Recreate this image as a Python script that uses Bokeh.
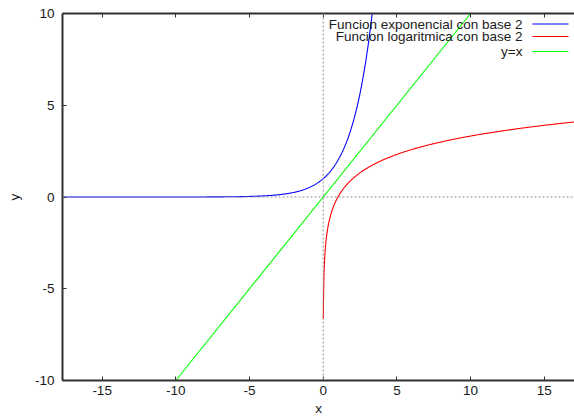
import numpy as np
from bokeh.plotting import figure
from bokeh.models import Range1d, LinearAxis, Span, Label, FixedTicker, CustomJSTickFormatter
from bokeh.embed import file_html
from bokeh.resources import INLINE

# ---- data ----
x_ticks = [-15, -10, -5, 0, 5, 10, 15]
y_ticks = [-10, -5, 0, 5, 10]
x_lo, x_hi = -17.69, 17.05
y_lo, y_hi = -10, 10

series_names = ["Funcion exponencial con base 2", "Funcion logaritmica con base 2", "y=x"]
series_colors = ["#0000ff", "#ff0000", "#00ff00"]

x_exp = np.linspace(-17.69, 3.5, 600)
y_exp = 2.0 ** x_exp
x_log = np.concatenate([np.linspace(0.01, 1.0, 400), np.linspace(1.0, 17.1, 300)])
y_log = np.log2(x_log)
x_id = np.array([-10.0, 10.0])
y_id = x_id.copy()

# ---- figure ----
W, H = 574, 419
ML, MR, MT, MB = 62, 0, 13, 39
FONT = "Liberation Sans"

p = figure(width=W, height=H, output_backend="svg", toolbar_location=None,
           x_range=Range1d(x_lo, x_hi), y_range=Range1d(y_lo, y_hi),
           x_axis_location=None, y_axis_location=None,
           min_border_left=ML, min_border_right=MR, min_border_top=MT, min_border_bottom=MB)
p.outline_line_color = None
p.grid.visible = False
p.background_fill_color = "white"
p.border_fill_color = "white"

def style_axis(ax):
    ax.axis_line_color = "#303030"
    ax.axis_line_width = 2
    ax.major_tick_in = 4
    ax.major_tick_out = 0
    ax.major_tick_line_color = "#303030"
    ax.minor_tick_line_color = None
    ax.major_label_text_font = FONT
    ax.major_label_text_font_size = "13.5px"
    ax.major_label_text_color = "#1a1a1a"
    ax.axis_label_text_font = FONT
    ax.axis_label_text_font_size = "13.5px"
    ax.axis_label_text_font_style = "normal"
    ax.axis_label_text_color = "#1a1a1a"

xb = LinearAxis(ticker=FixedTicker(ticks=x_ticks), axis_label="x")
style_axis(xb)
xb.major_label_overrides = {t: str(t) for t in x_ticks}
xb.major_label_standoff = 5
xb.axis_label_standoff = 3
p.add_layout(xb, "below")

xt = LinearAxis(ticker=FixedTicker(ticks=x_ticks))
style_axis(xt)
xt.formatter = CustomJSTickFormatter(code="return ''")
xt.major_label_standoff = 0
p.add_layout(xt, "above")

yl = LinearAxis(ticker=FixedTicker(ticks=y_ticks), axis_label="y")
style_axis(yl)
yl.major_label_overrides = {t: str(t) for t in y_ticks}
yl.major_label_standoff = 8
yl.axis_label_standoff = 10
p.add_layout(yl, "left")

# zero axes
for dim in ("width", "height"):
    p.add_layout(Span(location=0, dimension=dim, line_color="#909090",
                      line_width=1, line_dash="2 2"))

p.line(x_exp, y_exp, line_color=series_colors[0], line_width=1.1)
p.line(x_log, y_log, line_color=series_colors[1], line_width=1.1)
p.line(x_id, y_id, line_color=series_colors[2], line_width=1.1)

# ---- gnuplot-style legend (text right-aligned, sample on the right) ----
frame_w = W - ML - MR
frame_h = H - MT - MB
def sx2d(sx):
    return x_lo + (sx - ML) / frame_w * (x_hi - x_lo)
def sy2d(sy):
    return y_hi - (sy - MT) / frame_h * (y_hi - y_lo)

legend_rows_sy = [23.5, 36.0, 51.0]
text_right_sx = 522
sample_sx = (532, 568)
for name, col, sy in zip(series_names, series_colors, legend_rows_sy):
    p.add_layout(Label(x=sx2d(text_right_sx), y=sy2d(sy), text=name,
                       text_align="right", text_baseline="middle",
                       text_font=FONT, text_font_size="13.5px", text_color="#1a1a1a"))
    p.line([sx2d(sample_sx[0]), sx2d(sample_sx[1])], [sy2d(sy), sy2d(sy)],
           line_color=col, line_width=1.1)

open("out.html", "w").write(file_html(p, INLINE))
